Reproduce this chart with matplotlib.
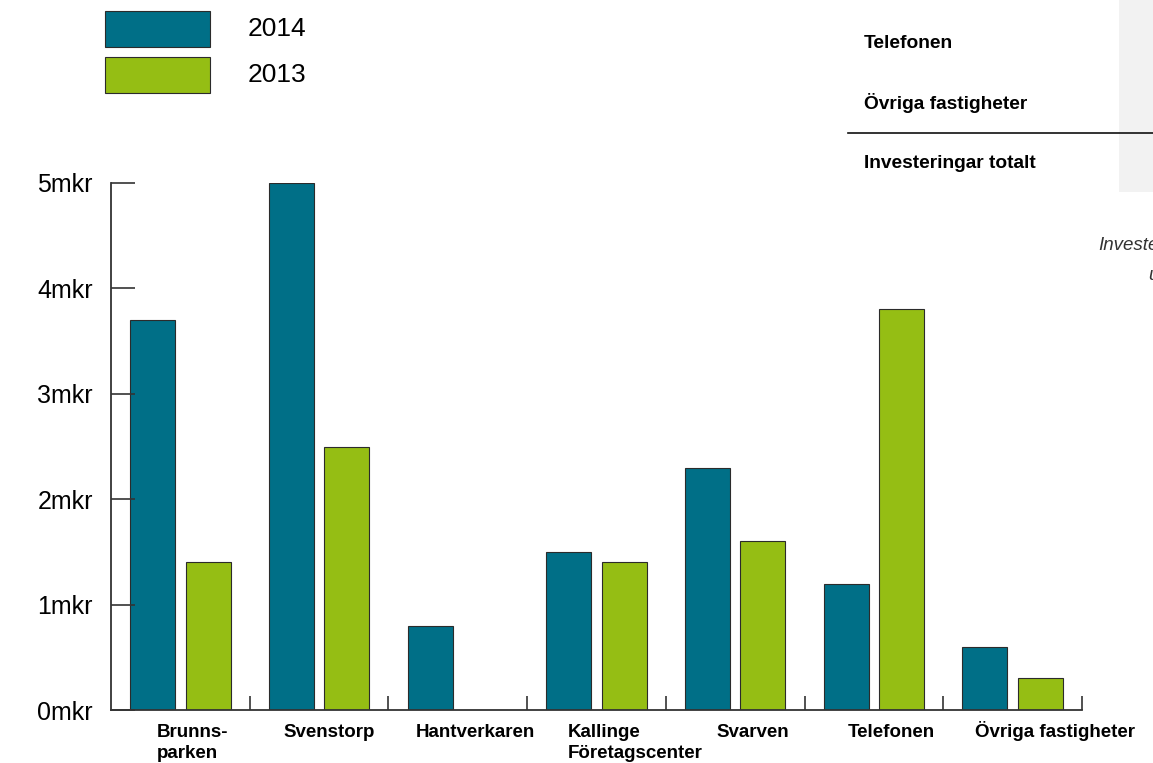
import matplotlib.pyplot as plt
from matplotlib.patches import Rectangle

plt.rcParams['font.family'] = ['Liberation Sans', 'DejaVu Sans']

# investeringar per fastighet, miljoner kronor
fastigheter = ["Brunns-\nparken", "Svenstorp", "Hantverkaren", "Kallinge\nFöretagscenter",
               "Svarven", "Telefonen", "Övriga fastigheter"]
inv_2014 = [3.7, 5.0, 0.8, 1.5, 2.3, 1.2, 0.6]
inv_2013 = [1.4, 2.5, 0.0, 1.4, 1.6, 3.8, 0.3]
y_ticks = [0, 1, 2, 3, 4, 5]
y_labels = ["0mkr", "1mkr", "2mkr", "3mkr", "4mkr", "5mkr"]
# label left edge, in group units
label_x = [0.332, 1.240, 2.199, 3.295, 4.362, 5.314, 6.229]

teal = "#006f87"
green = "#95be14"
edge = "#2b2b2b"

fig = plt.figure(figsize=(11.53, 7.63), dpi=100)
ax = fig.add_axes([111/1153, 1 - 710/763, (1082 - 111)/1153, (710 - 183)/763])

n = len(fastigheter)
w = 0.325
for i in range(n):
    ax.bar(i + 0.30, inv_2014[i], width=w, color=teal, edgecolor=edge, linewidth=0.8)
    ax.bar(i + 0.70, inv_2013[i], width=w, color=green, edgecolor=edge, linewidth=0.8)

ax.set_xlim(0, n)
ax.set_ylim(0, 5)
for s in ["top", "right"]:
    ax.spines[s].set_visible(False)
for s in ["left", "bottom"]:
    ax.spines[s].set_color("#333333")
    ax.spines[s].set_linewidth(1.3)

ax.set_yticks(y_ticks)
ax.set_yticklabels(y_labels, fontsize=18)
ax.tick_params(axis="y", direction="in", length=17, width=1.2, color="#333333", pad=13)
ax.set_xticks(range(1, n + 1))
ax.set_xticklabels([])
ax.tick_params(axis="x", direction="in", length=10, width=1.2, color="#333333")

# category names, one baseline per line
trans = ax.get_xaxis_transform()
baselines = [-0.0512, -0.0911]
for x, name in zip(label_x, fastigheter):
    for k, line in enumerate(name.split("\n")):
        ax.text(x, baselines[k], line, transform=trans, ha="left", va="baseline",
                fontsize=13.5, fontweight="bold", clip_on=False)

# legend
fig.add_artist(Rectangle((105/1153, 1 - 47/763), 105/1153, 36/763, transform=fig.transFigure,
                         facecolor=teal, edgecolor=edge, linewidth=0.8))
fig.add_artist(Rectangle((105/1153, 1 - 93/763), 105/1153, 36/763, transform=fig.transFigure,
                         facecolor=green, edgecolor=edge, linewidth=0.8))
fig.text(248/1153, 1 - 29/763, "2014", fontsize=19, va="center", ha="left")
fig.text(248/1153, 1 - 75/763, "2013", fontsize=19, va="center", ha="left")

# table fragment, top right
fig.add_artist(Rectangle((1119/1153, 1 - 192/763), 40/1153, 192/763, transform=fig.transFigure,
                         facecolor="#f2f2f2", edgecolor="none"))
fig.add_artist(plt.Line2D([848/1153, 1], [1 - 133/763, 1 - 133/763], transform=fig.transFigure,
                          color="#111111", linewidth=1.2))
for yy, t in [(44, "Telefonen"), (103, "Övriga fastigheter"), (163, "Investeringar totalt")]:
    fig.text(864/1153, 1 - yy/763, t, fontsize=13.8, fontweight="bold", va="center", ha="left")
fig.text(1098/1153, 1 - 245/763, "Investeringar", fontsize=13.5, style="italic",
         color="#333333", va="center", ha="left")
fig.text(1148/1153, 1 - 275/763, "under", fontsize=13.5, style="italic",
         color="#333333", va="center", ha="left")

fig.savefig("out.png", dpi=100)
